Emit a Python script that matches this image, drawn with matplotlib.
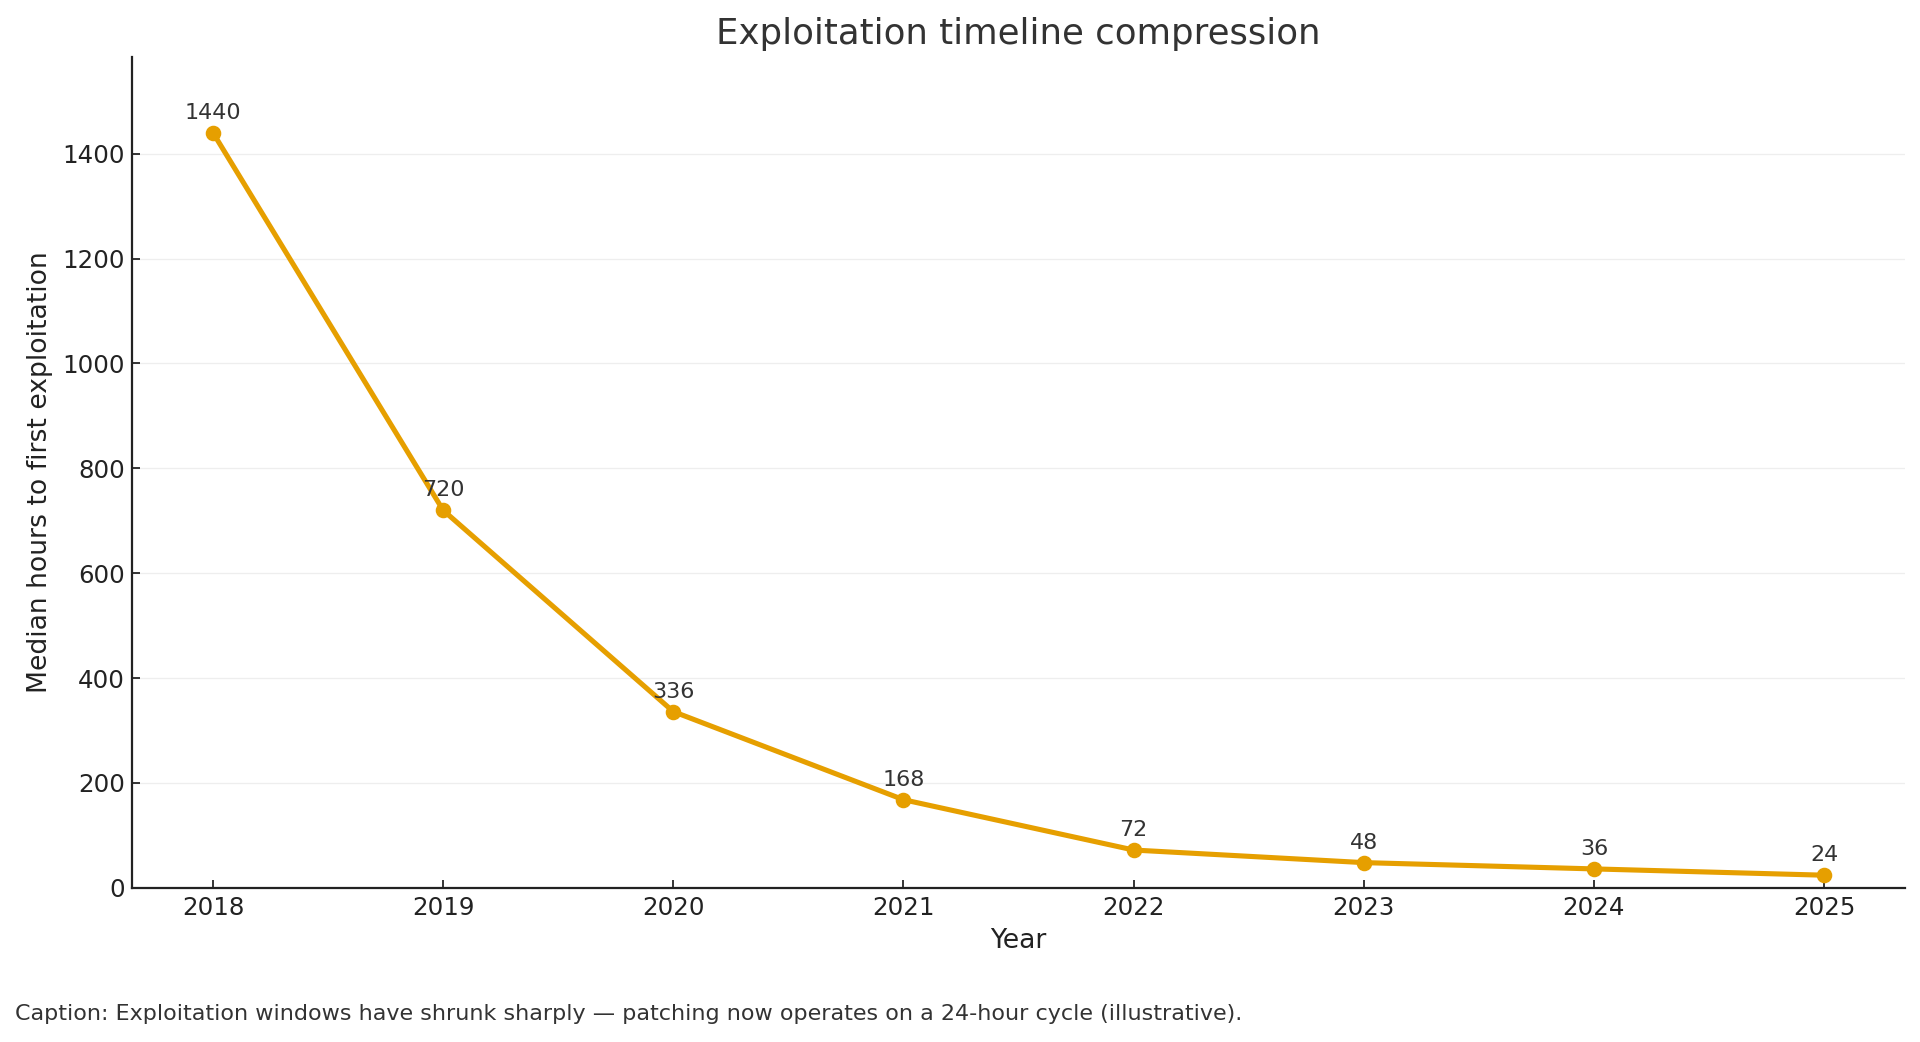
import matplotlib
matplotlib.use("Agg")
import matplotlib.pyplot as plt

years = [2018, 2019, 2020, 2021, 2022, 2023, 2024, 2025]
hours = [1440, 720, 336, 168, 72, 48, 36, 24]

line_color = "#E69F00"
text_color = "#333333"

plt.rcParams["font.family"] = ["DejaVu Sans"]

fig = plt.figure(figsize=(12, 6.5125), dpi=160)
ax = fig.add_axes([0.069, 0.148, 0.923, 0.797])

ax.plot(years, hours, color=line_color, linewidth=2.3, marker="o", markersize=6)

for x, y in zip(years, hours):
    ax.annotate(f"{y}", (x, y), xytext=(0, 4.5), textcoords="offset points",
                ha="center", va="bottom", fontsize=10, color=text_color)

ax.set_ylim(0, max(hours) * 1.1)
ax.set_xticks(years)
ax.tick_params(labelsize=11, colors="#222222", direction="in")

ax.set_title("Exploitation timeline compression", fontsize=16, color=text_color)
ax.set_xlabel("Year", fontsize=12, color="#222222")
ax.set_ylabel("Median hours to first exploitation", fontsize=12, color="#222222")

ax.grid(axis="y", color="#eeeeee", linewidth=0.6)
ax.set_axisbelow(True)
for side in ["top", "right"]:
    ax.spines[side].set_visible(False)
for side in ["left", "bottom"]:
    ax.spines[side].set_linewidth(1.0)
    ax.spines[side].set_color("#222222")

fig.text(0.008, 0.027,
         "Caption: Exploitation windows have shrunk sharply \u2014 patching now operates on a 24-hour cycle (illustrative).",
         ha="left", va="center", fontsize=10, color=text_color)

fig.savefig("out.png", dpi=160)
